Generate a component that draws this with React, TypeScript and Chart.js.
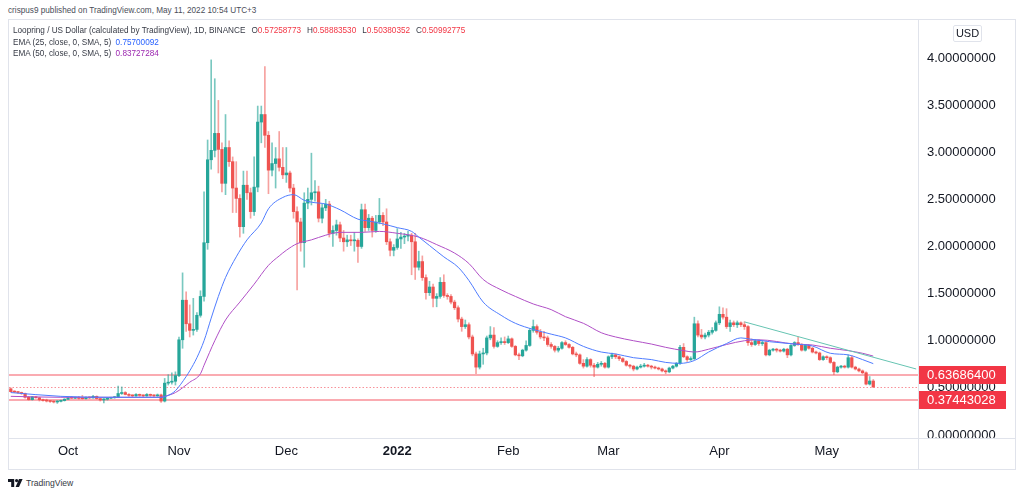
import React, { useEffect, useRef } from "react";
import { Chart, registerables } from "chart.js";

Chart.register(...registerables);

const FONT = '"Liberation Sans", Arial, sans-serif';

// ---- categories (one slot per day, incl. empty right margin days) ----
const axisDayCount = 254;
const categories: string[] = Array.from({ length: axisDayCount }, (_, i) => {
  const d = new Date(2021, 8, 15 + i);
  return `${d.getFullYear()}-${String(d.getMonth() + 1).padStart(2, "0")}-${String(d.getDate()).padStart(2, "0")}`;
});

const tickDates = ["2021-10-01", "2021-11-01", "2021-12-01", "2022-01-01", "2022-02-01", "2022-03-01", "2022-04-01", "2022-05-01"];
const tickLabels = ["Oct", "Nov", "Dec", "2022", "Feb", "Mar", "Apr", "May"];

const priceTicks = [0, 0.5, 1, 1.5, 2, 2.5, 3, 3.5, 4];
const yAxisMin = -0.032;
const yAxisMax = 4.403;

// ---- OHLC ----
const opens = [
  0.49, 0.46, 0.455, 0.45, 0.44, 0.40, 0.375, 0.405, 0.395, 0.375,
  0.365, 0.36, 0.355, 0.35, 0.357, 0.365, 0.38, 0.395, 0.39, 0.395,
  0.388, 0.385, 0.40, 0.393, 0.41, 0.386, 0.372, 0.38, 0.39, 0.395,
  0.40, 0.44, 0.45, 0.43, 0.42, 0.415, 0.43, 0.42, 0.415, 0.43,
  0.42, 0.415, 0.425, 0.36, 0.55, 0.56, 0.57, 0.63, 1.01, 1.43,
  1.18, 1.11, 1.12, 1.27, 1.47, 2.04, 2.92, 3.02, 3.20, 3.03,
  2.67, 3.05, 2.90, 2.62, 2.51, 2.21, 2.65, 2.57, 2.37, 2.63,
  3.32, 3.40, 3.18, 2.81, 2.88, 2.93, 2.84, 2.76, 2.78, 2.62,
  2.37, 2.26, 2.04, 2.46, 2.50, 2.57, 2.58, 2.30, 2.41, 2.45,
  2.14, 2.17, 2.23, 2.09, 2.05, 2.07, 2.06, 2.065, 2.00, 2.39,
  2.20, 2.30, 2.17, 2.26, 2.33, 2.26, 2.05, 1.96, 1.99, 2.08,
  2.10, 2.11, 2.12, 2.05, 1.78, 1.84, 1.67, 1.51, 1.57, 1.45,
  1.47, 1.62, 1.48, 1.47, 1.41, 1.35, 1.23, 1.15, 1.17, 1.04,
  0.86, 0.72, 0.86, 0.87, 1.03, 1.06, 0.94, 0.98, 0.99, 0.98,
  1.02, 0.94, 0.85, 0.84, 0.90, 0.95, 1.11, 1.15, 1.09, 1.04,
  1.03, 0.96, 0.94, 0.90, 0.92, 0.98, 0.96, 0.93, 0.86, 0.85,
  0.76, 0.73, 0.80, 0.74, 0.72, 0.75, 0.76, 0.72, 0.83, 0.85,
  0.83, 0.81, 0.78, 0.74, 0.73, 0.70, 0.72, 0.73, 0.74, 0.73,
  0.72, 0.71, 0.70, 0.68, 0.67, 0.71, 0.73, 0.76, 0.93, 0.83,
  0.80, 0.81, 1.18, 1.06, 1.04, 1.06, 1.09, 1.11, 1.19, 1.28,
  1.25, 1.15, 1.19, 1.17, 1.19, 1.17, 1.15, 0.98, 0.96, 1.00,
  0.97, 0.98, 0.85, 0.90, 0.91, 0.90, 0.89, 0.91, 0.85, 0.95,
  0.98, 0.96, 0.90, 0.95, 0.92, 0.88, 0.87, 0.80, 0.83, 0.82,
  0.77, 0.67, 0.72, 0.73, 0.72, 0.82, 0.72, 0.70, 0.68, 0.66,
  0.54, 0.57258773,
];
const highs = [
  0.50, 0.47, 0.46, 0.455, 0.445, 0.41, 0.41, 0.41, 0.40, 0.38,
  0.38, 0.365, 0.36, 0.365, 0.37, 0.385, 0.40, 0.41, 0.40, 0.41,
  0.42, 0.405, 0.405, 0.42, 0.415, 0.39, 0.385, 0.395, 0.40, 0.41,
  0.52, 0.51, 0.46, 0.44, 0.425, 0.44, 0.435, 0.425, 0.44, 0.435,
  0.425, 0.435, 0.435, 0.60, 0.64, 0.66, 0.67, 1.04, 1.72, 1.52,
  1.38, 1.45, 1.30, 1.53, 2.58, 3.13, 3.98, 3.78, 3.55, 3.10,
  3.40, 3.12, 2.95, 2.90, 2.55, 2.80, 2.80, 2.62, 2.95, 3.49,
  3.49, 3.91, 3.22, 3.10, 3.05, 3.22, 3.05, 3.05, 2.80, 2.66,
  2.42, 2.30, 2.57, 2.62, 2.99, 2.70, 2.64, 2.45, 2.50, 2.48,
  2.22, 2.28, 2.26, 2.17, 2.12, 2.12, 2.15, 2.08, 2.45, 2.45,
  2.34, 2.32, 2.33, 2.51, 2.36, 2.40, 2.08, 2.02, 2.19, 2.15,
  2.14, 2.16, 2.14, 2.14, 1.95, 1.90, 1.70, 1.63, 1.60, 1.50,
  1.67, 1.70, 1.50, 1.49, 1.43, 1.37, 1.25, 1.22, 1.19, 1.06,
  0.88, 0.89, 0.92, 1.05, 1.15, 1.14, 1.00, 1.03, 1.04, 1.05,
  1.03, 0.95, 0.87, 0.91, 1.00, 1.13, 1.22, 1.17, 1.12, 1.10,
  1.05, 0.98, 0.95, 0.94, 0.99, 1.00, 0.97, 0.94, 0.88, 0.86,
  0.80, 0.82, 0.81, 0.76, 0.77, 0.78, 0.77, 0.84, 0.87, 0.86,
  0.84, 0.82, 0.79, 0.75, 0.74, 0.73, 0.75, 0.76, 0.75, 0.74,
  0.73, 0.72, 0.71, 0.69, 0.72, 0.74, 0.77, 0.95, 0.97, 0.84,
  0.83, 1.25, 1.21, 1.12, 1.08, 1.11, 1.14, 1.21, 1.36, 1.35,
  1.34, 1.22, 1.21, 1.21, 1.20, 1.20, 1.16, 1.02, 1.01, 1.01,
  1.00, 0.99, 0.91, 0.92, 0.92, 0.91, 0.92, 0.92, 0.96, 0.99,
  1.04, 0.97, 0.96, 0.96, 0.93, 0.89, 0.88, 0.84, 0.84, 0.83,
  0.78, 0.73, 0.74, 0.74, 0.85, 0.84, 0.73, 0.71, 0.69, 0.67,
  0.62, 0.5888353,
];
const lows = [
  0.455, 0.45, 0.44, 0.43, 0.39, 0.37, 0.37, 0.39, 0.36, 0.36,
  0.35, 0.345, 0.34, 0.335, 0.35, 0.36, 0.375, 0.385, 0.385, 0.38,
  0.38, 0.38, 0.385, 0.39, 0.38, 0.36, 0.34, 0.37, 0.385, 0.39,
  0.395, 0.43, 0.425, 0.41, 0.405, 0.41, 0.41, 0.405, 0.41, 0.41,
  0.405, 0.41, 0.345, 0.35, 0.53, 0.54, 0.53, 0.62, 0.92, 1.10,
  1.04, 1.06, 1.10, 1.25, 1.42, 1.97, 2.82, 2.95, 2.78, 2.58,
  2.55, 2.85, 2.36, 2.36, 2.10, 2.14, 2.50, 2.30, 2.33, 2.58,
  3.10, 3.05, 2.56, 2.75, 2.62, 2.80, 2.72, 2.68, 2.58, 2.30,
  1.54, 1.95, 1.78, 2.40, 2.44, 2.48, 2.26, 2.25, 2.38, 2.10,
  2.00, 2.12, 2.05, 1.95, 2.00, 2.01, 1.95, 1.83, 1.98, 2.16,
  2.17, 2.10, 2.15, 2.24, 2.22, 2.02, 1.90, 1.90, 1.97, 1.98,
  2.03, 2.06, 1.70, 1.65, 1.75, 1.64, 1.44, 1.48, 1.36, 1.36,
  1.45, 1.46, 1.44, 1.39, 1.33, 1.20, 1.10, 1.13, 1.02, 0.84,
  0.65, 0.70, 0.75, 0.85, 1.01, 0.92, 0.93, 0.96, 0.96, 0.97,
  0.93, 0.84, 0.80, 0.83, 0.89, 0.94, 1.09, 1.07, 1.02, 1.00,
  0.94, 0.92, 0.88, 0.88, 0.91, 0.95, 0.92, 0.85, 0.83, 0.75,
  0.71, 0.72, 0.72, 0.62, 0.71, 0.73, 0.71, 0.71, 0.81, 0.81,
  0.79, 0.77, 0.73, 0.71, 0.68, 0.69, 0.71, 0.72, 0.72, 0.70,
  0.70, 0.69, 0.67, 0.65, 0.66, 0.70, 0.72, 0.75, 0.82, 0.78,
  0.79, 0.80, 1.04, 1.02, 1.02, 1.04, 1.07, 1.10, 1.17, 1.23,
  1.13, 1.10, 1.15, 1.14, 1.15, 1.12, 0.95, 0.94, 0.95, 0.95,
  0.95, 0.84, 0.84, 0.89, 0.88, 0.88, 0.88, 0.82, 0.84, 0.94,
  0.95, 0.89, 0.89, 0.91, 0.87, 0.86, 0.79, 0.79, 0.80, 0.76,
  0.64, 0.66, 0.71, 0.71, 0.71, 0.71, 0.69, 0.67, 0.65, 0.53,
  0.53, 0.50380352,
];
const closes = [
  0.46, 0.455, 0.45, 0.44, 0.40, 0.375, 0.405, 0.395, 0.375, 0.365,
  0.36, 0.355, 0.35, 0.357, 0.365, 0.38, 0.395, 0.39, 0.395, 0.388,
  0.385, 0.40, 0.393, 0.41, 0.386, 0.372, 0.38, 0.39, 0.395, 0.40,
  0.44, 0.45, 0.43, 0.42, 0.415, 0.43, 0.42, 0.415, 0.43, 0.42,
  0.415, 0.425, 0.36, 0.55, 0.56, 0.57, 0.63, 1.01, 1.43, 1.18,
  1.11, 1.12, 1.27, 1.47, 2.04, 2.92, 3.02, 3.20, 3.03, 2.67,
  3.05, 2.90, 2.62, 2.51, 2.21, 2.65, 2.57, 2.37, 2.63, 3.32,
  3.40, 3.18, 2.81, 2.88, 2.93, 2.84, 2.76, 2.78, 2.62, 2.37,
  2.26, 2.04, 2.46, 2.50, 2.57, 2.58, 2.30, 2.41, 2.45, 2.14,
  2.17, 2.23, 2.09, 2.05, 2.07, 2.06, 2.065, 2.00, 2.39, 2.20,
  2.30, 2.17, 2.26, 2.33, 2.26, 2.05, 1.96, 1.99, 2.08, 2.10,
  2.11, 2.12, 2.05, 1.78, 1.84, 1.67, 1.51, 1.57, 1.45, 1.47,
  1.62, 1.48, 1.47, 1.41, 1.35, 1.23, 1.15, 1.17, 1.04, 0.86,
  0.72, 0.86, 0.87, 1.03, 1.06, 0.94, 0.98, 0.99, 0.98, 1.02,
  0.94, 0.85, 0.84, 0.90, 0.95, 1.11, 1.15, 1.09, 1.04, 1.03,
  0.96, 0.94, 0.90, 0.92, 0.98, 0.96, 0.93, 0.86, 0.85, 0.76,
  0.73, 0.80, 0.74, 0.72, 0.75, 0.76, 0.72, 0.83, 0.85, 0.83,
  0.81, 0.78, 0.74, 0.73, 0.70, 0.72, 0.73, 0.74, 0.73, 0.72,
  0.71, 0.70, 0.68, 0.67, 0.71, 0.73, 0.76, 0.93, 0.83, 0.80,
  0.81, 1.18, 1.06, 1.04, 1.06, 1.09, 1.11, 1.19, 1.28, 1.25,
  1.15, 1.19, 1.17, 1.19, 1.17, 1.15, 0.98, 0.96, 1.00, 0.97,
  0.98, 0.85, 0.90, 0.91, 0.90, 0.89, 0.91, 0.85, 0.95, 0.98,
  0.96, 0.90, 0.95, 0.92, 0.88, 0.87, 0.80, 0.83, 0.82, 0.77,
  0.67, 0.72, 0.73, 0.72, 0.82, 0.72, 0.70, 0.68, 0.66, 0.54,
  0.57258773, 0.50992775,
];

// ---- EMA lines (day index, value) ----
const emaFastIdx = [0, 14, 28, 42, 44, 46, 49, 50, 52, 54, 56, 58, 60, 63, 66, 70, 72, 76, 79, 82, 84, 88, 92, 97, 100, 104, 108, 112, 114, 117, 121, 125, 128, 132, 137, 141, 146, 151, 155, 160, 165, 169, 174, 179, 183, 187, 191, 195, 200, 204, 207, 212, 219, 224, 229, 234, 238, 241];
const emaFastVal = [0.45, 0.41, 0.40, 0.40, 0.42, 0.47, 0.62, 0.68, 0.82, 1.00, 1.24, 1.47, 1.67, 1.89, 2.07, 2.25, 2.40, 2.52, 2.55, 2.49, 2.47, 2.45, 2.39, 2.29, 2.27, 2.24, 2.20, 2.16, 2.10, 2.01, 1.89, 1.78, 1.64, 1.41, 1.27, 1.185, 1.12, 1.07, 1.03, 0.94, 0.88, 0.86, 0.82, 0.80, 0.77, 0.76, 0.79, 0.88, 0.97, 1.03, 1.015, 0.99, 0.965, 0.944, 0.867, 0.85, 0.80, 0.757];
const emaSlowIdx = [0, 14, 28, 42, 43, 46, 50, 53, 54, 57, 60, 64, 68, 72, 75, 77, 80, 84, 88, 92, 98, 103, 108, 114, 119, 124, 128, 132, 137, 141, 146, 151, 155, 160, 165, 169, 174, 179, 183, 188, 191, 195, 200, 205, 209, 219, 224, 229, 234, 238, 241];
const emaSlowVal = [0.41, 0.40, 0.40, 0.40, 0.41, 0.45, 0.56, 0.65, 0.74, 1.00, 1.22, 1.41, 1.60, 1.80, 1.90, 1.96, 2.03, 2.07, 2.12, 2.15, 2.15, 2.16, 2.14, 2.10, 2.02, 1.93, 1.82, 1.65, 1.54, 1.47, 1.39, 1.33, 1.255, 1.185, 1.085, 1.04, 1.00, 0.965, 0.93, 0.895, 0.88, 0.91, 0.96, 1.00, 1.01, 0.965, 0.955, 0.92, 0.895, 0.867, 0.837];

// ---- drawings ----
const trendIdx = [205, 253];
const trendVal = [1.2, 0.70];
const levelValues = [0.636864, 0.37443028];
const levelLabels = ["0.63686400", "0.37443028"];
const lastClose = closes[closes.length - 1];

const UP = "#26a69a";
const DOWN = "#ef5350";
const UP_WICK = "rgba(38,166,154,0.62)";
const DOWN_WICK = "rgba(239,83,80,0.55)";

function sparse(idx: number[], val: number[]) {
  const arr: (number | null)[] = new Array(axisDayCount).fill(null);
  idx.forEach((k, j) => {
    arr[k] = val[j];
  });
  return arr;
}

const overlayPlugin = {
  id: "tvOverlay",
  beforeDatasetsDraw(chart: any) {
    const { ctx, chartArea: a } = chart;
    const y = chart.scales.y;
    ctx.save();
    ctx.strokeStyle = "rgba(242,54,69,0.42)";
    ctx.lineWidth = 2;
    levelValues.forEach((v) => {
      const py = Math.round(y.getPixelForValue(v));
      ctx.beginPath();
      ctx.moveTo(a.left, py);
      ctx.lineTo(a.right, py);
      ctx.stroke();
    });
    ctx.setLineDash([1.5, 2]);
    ctx.lineWidth = 1;
    ctx.strokeStyle = "rgba(242,54,69,0.55)";
    const py = Math.round(y.getPixelForValue(lastClose)) + 0.5;
    ctx.beginPath();
    ctx.moveTo(a.left, py);
    ctx.lineTo(a.right, py);
    ctx.stroke();
    ctx.restore();
  },
  afterDraw(chart: any) {
    const { ctx, chartArea: a, width, height } = chart;
    const y = chart.scales.y;
    ctx.save();
    ctx.strokeStyle = "#e0e3eb";
    ctx.lineWidth = 1;
    ctx.beginPath();
    ctx.moveTo(0, Math.round(a.bottom) + 0.5);
    ctx.lineTo(width, Math.round(a.bottom) + 0.5);
    ctx.moveTo(Math.round(a.right) + 0.5, 0);
    ctx.lineTo(Math.round(a.right) + 0.5, height);
    ctx.stroke();
    ctx.font = `13px ${FONT}`;
    ctx.textBaseline = "middle";
    ctx.textAlign = "left";
    levelValues.forEach((v, k) => {
      const py = Math.round(y.getPixelForValue(v));
      ctx.fillStyle = "#f23645";
      ctx.fillRect(a.right + 1, py - 9, 87, 18);
      ctx.fillStyle = "#ffffff";
      ctx.fillText(levelLabels[k], a.right + 9, py + 0.5);
    });
    ctx.restore();
  },
};

function CandleChart() {
  const ref = useRef<HTMLCanvasElement | null>(null);
  useEffect(() => {
    if (!ref.current) return;
    const colors = closes.map((c, i) => (c >= opens[i] ? UP : DOWN));
    const wickColors = closes.map((c, i) => (c >= opens[i] ? UP_WICK : DOWN_WICK));
    const chart = new Chart(ref.current, {
      type: "bar",
      data: {
        labels: categories,
        datasets: [
          {
            type: "line",
            data: sparse(trendIdx, trendVal),
            borderColor: "#66c4b2",
            borderWidth: 1,
            pointRadius: 0,
            spanGaps: true,
            fill: false,
            order: 0,
          } as any,
          {
            type: "line",
            data: sparse(emaFastIdx, emaFastVal),
            borderColor: "#4f7cff",
            borderWidth: 1,
            pointRadius: 0,
            spanGaps: true,
            cubicInterpolationMode: "monotone",
            fill: false,
            order: 1,
          } as any,
          {
            type: "line",
            data: sparse(emaSlowIdx, emaSlowVal),
            borderColor: "#b04fc6",
            borderWidth: 1,
            pointRadius: 0,
            spanGaps: true,
            cubicInterpolationMode: "monotone",
            fill: false,
            order: 1,
          } as any,
          {
            type: "bar",
            data: opens.map((o, i) => [o, closes[i]]),
            backgroundColor: colors,
            borderWidth: 0,
            barThickness: 2.6,
            minBarLength: 1,
            grouped: false,
            order: 2,
          } as any,
          {
            type: "bar",
            data: lows.map((l, i) => [l, highs[i]]),
            backgroundColor: wickColors,
            borderWidth: 0,
            barThickness: 1,
            grouped: false,
            order: 3,
          } as any,
        ],
      },
      options: {
        animation: false,
        responsive: false,
        maintainAspectRatio: false,
        layout: { padding: 0 },
        events: [],
        plugins: { legend: { display: false }, tooltip: { enabled: false } },
        scales: {
          x: {
            type: "category",
            offset: true,
            grid: { display: false, drawTicks: false },
            border: { display: false },
            ticks: {
              autoSkip: false,
              maxRotation: 0,
              minRotation: 0,
              padding: 6,
              color: "#131722",
              font: (c: any) => ({
                family: FONT,
                size: 13,
                weight: c.tick && c.tick.label === "2022" ? "bold" : "normal",
              }),
              callback: (_v: any, index: number) => {
                const k = tickDates.indexOf(categories[index]);
                return k >= 0 ? tickLabels[k] : null;
              },
            },
            afterFit: (s: any) => {
              s.height = 31;
              s.paddingLeft = 0;
              s.paddingRight = 0;
            },
          } as any,
          y: {
            type: "linear",
            position: "right",
            min: yAxisMin,
            max: yAxisMax,
            grid: { display: false, drawTicks: false },
            border: { display: false },
            afterBuildTicks: (s: any) => {
              s.ticks = priceTicks.map((v) => ({ value: v }));
            },
            ticks: {
              padding: 9,
              color: "#131722",
              font: { family: FONT, size: 13 },
              callback: (v: any) => Number(v).toFixed(8),
            },
            afterFit: (s: any) => {
              s.width = 97;
              s.paddingTop = 0;
              s.paddingBottom = 0;
            },
          } as any,
        },
      },
      plugins: [overlayPlugin],
    });
    return () => chart.destroy();
  }, []);
  return <canvas ref={ref} width={1006} height={449} style={{ display: "block" }} />;
}

const small: React.CSSProperties = { fontFamily: FONT, fontSize: 8.2, color: "#363a45", whiteSpace: "nowrap" };

export default function App() {
  return (
    <div style={{ position: "fixed", left: 0, top: 0, width: 1024, height: 495, background: "#ffffff", overflow: "hidden" }}>
      <div style={{ ...small, position: "absolute", left: 8, top: 5, lineHeight: "12px", color: "#4a4e59" }}>
        crispus9 published on TradingView.com, May 11, 2022 10:54 UTC+3
      </div>
      <div
        style={{
          position: "absolute",
          left: 8,
          top: 19,
          width: 1008,
          height: 451,
          border: "1px solid #e0e3eb",
          boxSizing: "border-box",
        }}
      >
        <CandleChart />
      </div>
      <div style={{ ...small, position: "absolute", left: 13, top: 25, lineHeight: "11.5px" }}>
        <div>
          Loopring / US Dollar (calculated by TradingView), 1D, BINANCE
          <span style={{ marginLeft: 6 }}>O</span>
          <span style={{ color: "#f23645" }}>0.57258773</span>
          <span style={{ marginLeft: 6 }}>H</span>
          <span style={{ color: "#f23645" }}>0.58883530</span>
          <span style={{ marginLeft: 6 }}>L</span>
          <span style={{ color: "#f23645" }}>0.50380352</span>
          <span style={{ marginLeft: 6 }}>C</span>
          <span style={{ color: "#f23645" }}>0.50992775</span>
        </div>
        <div>
          EMA (25, close, 0, SMA, 5) <span style={{ color: "#2962ff", marginLeft: 2 }}>0.75700092</span>
        </div>
        <div>
          EMA (50, close, 0, SMA, 5) <span style={{ color: "#9c27b0", marginLeft: 2 }}>0.83727284</span>
        </div>
      </div>
      <div
        style={{
          position: "absolute",
          left: 953,
          top: 25,
          width: 29,
          height: 17,
          border: "1px solid #e0e3eb",
          borderRadius: 2,
          boxSizing: "border-box",
          fontFamily: FONT,
          fontSize: 11,
          lineHeight: "15px",
          textAlign: "center",
          color: "#131722",
        }}
      >
        USD
      </div>
      <div style={{ position: "absolute", left: 8, top: 478, display: "flex", alignItems: "center" }}>
        <svg width="15" height="9" viewBox="0 0 15 9">
          <path d="M0 0h6.2v8h-3v-5h-3.2z" fill="#131722" />
          <circle cx="8.6" cy="1.6" r="1.6" fill="#131722" />
          <path d="M11 0h3.6l-3.6 8h-3.4z" fill="#131722" />
        </svg>
        <span style={{ fontFamily: FONT, fontSize: 8.6, color: "#363a45", marginLeft: 3 }}>TradingView</span>
      </div>
    </div>
  );
}
